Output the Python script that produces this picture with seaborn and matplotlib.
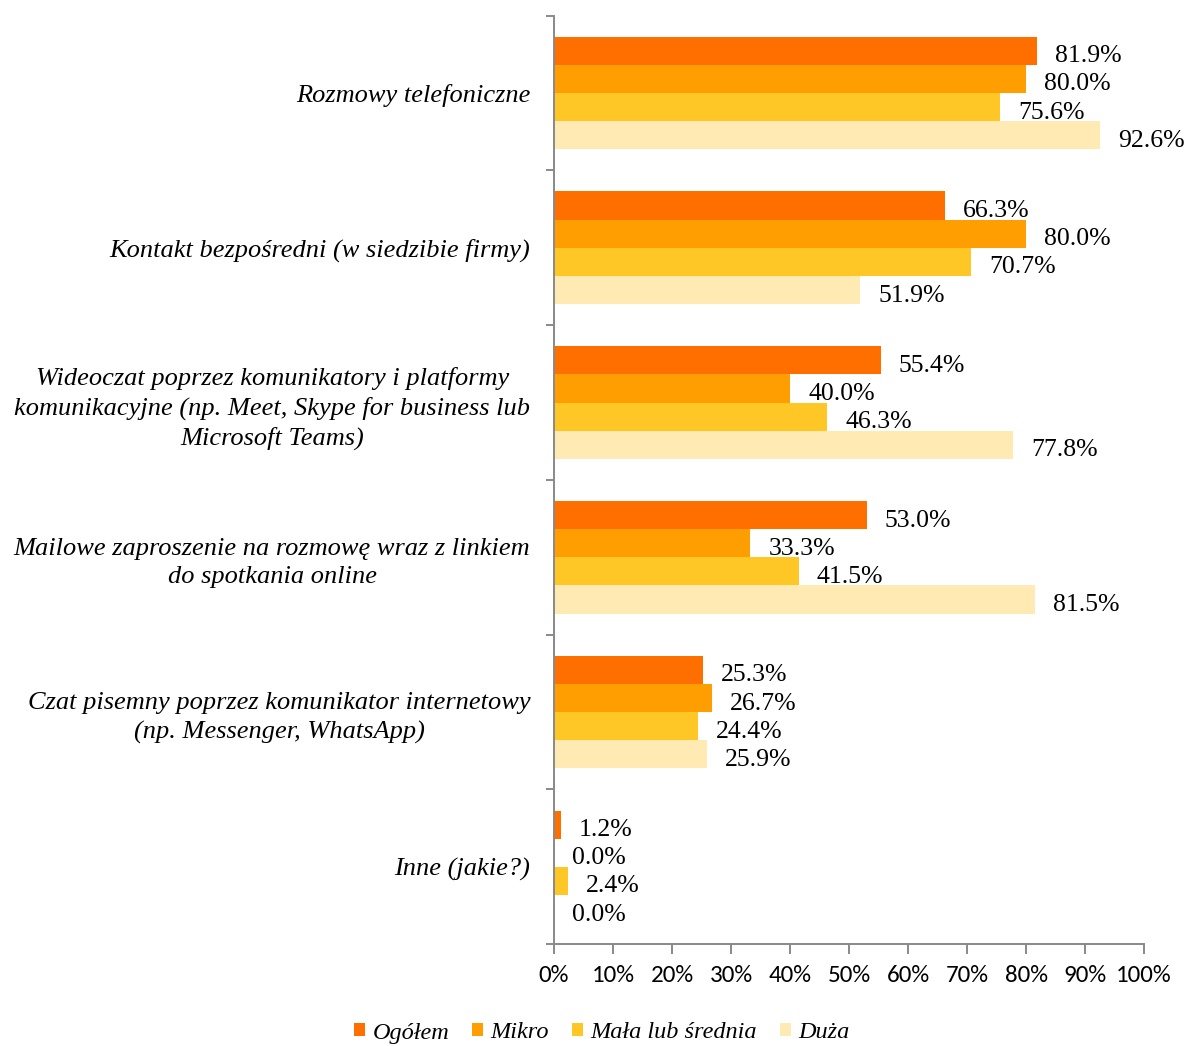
import matplotlib
matplotlib.use("Agg")
import matplotlib.pyplot as plt
from matplotlib import font_manager
from matplotlib.font_manager import FontProperties
from matplotlib.patches import Patch
from matplotlib.ticker import FixedLocator, FuncFormatter
import numpy as np
import pandas as pd
import seaborn as sns

# Survey answers: forms of contact used with candidates, by company size
categories = [
    "Rozmowy telefoniczne",
    "Kontakt bezpośredni (w siedzibie firmy)",
    "Wideoczat poprzez komunikatory i platformy\nkomunikacyjne (np. Meet, Skype for business lub\nMicrosoft Teams)",
    "Mailowe zaproszenie na rozmowę wraz z linkiem\ndo spotkania online",
    "Czat pisemny poprzez komunikator internetowy\n(np. Messenger, WhatsApp)",
    "Inne (jakie?)",
]
groups = ["Ogółem", "Mikro", "Mała lub średnia", "Duża"]

ogolem = [81.9, 66.3, 55.4, 53.0, 25.3, 1.2]
mikro = [80.0, 80.0, 40.0, 33.3, 26.7, 0.0]
mala_srednia = [75.6, 70.7, 46.3, 41.5, 24.4, 2.4]
duza = [92.6, 51.9, 77.8, 81.5, 25.9, 0.0]

x_ticks = [0, 10, 20, 30, 40, 50, 60, 70, 80, 90, 100]

colors = ["#FF6F00", "#FF9E00", "#FFC726", "#FFEAB3"]

df = pd.DataFrame({
    "kategoria": categories * 4,
    "grupa": np.repeat(groups, len(categories)),
    "wartosc": ogolem + mikro + mala_srednia + duza,
})


def font_file(family, style="normal"):
    try:
        return font_manager.findfont(FontProperties(family=family, style=style),
                                     fallback_to_default=False)
    except Exception:
        return None


def fp(family, style, size, fallback):
    path = font_file(family, style)
    if path:
        return FontProperties(fname=path, size=size)
    return FontProperties(family=fallback, style=style, size=size)


serif_reg = fp("Liberation Serif", "normal", 18.5, "DejaVu Serif")
serif_it = fp("Liberation Serif", "italic", 19, "DejaVu Serif")
legend_it = fp("Liberation Serif", "italic", 17.5, "DejaVu Serif")
tick_font = fp("Carlito", "normal", 18, "DejaVu Sans")

sns.set_theme(style="white")
plt.rcParams["font.family"] = ["Liberation Serif", "DejaVu Serif"]
plt.rcParams["text.color"] = "black"

fig = plt.figure(figsize=(11.86, 10.46), dpi=100)
ax = fig.add_axes([554 / 1186, 1 - 944.2 / 1046, 590 / 1186, 928.6 / 1046])

sns.barplot(
    data=df, y="kategoria", x="wartosc", hue="grupa", orient="h",
    order=categories, hue_order=groups, palette=colors, saturation=1,
    width=0.7276, linewidth=0, legend=False, ax=ax,
)

ax.set_xlim(0, 100)
ax.set_ylim(len(categories) - 0.5, -0.5)
ax.set_xlabel("")
ax.set_ylabel("")

# value labels to the right of every bar
for cont, vals in zip(ax.containers, [ogolem, mikro, mala_srednia, duza]):
    anns = ax.bar_label(cont, labels=[f"{v:.1f}%" for v in vals], padding=13,
                        color="black")
    for a in anns:
        a.set_fontproperties(serif_reg)
        a.xyann = (13, -4)

# x axis
ax.xaxis.set_major_locator(FixedLocator(x_ticks))
ax.xaxis.set_major_formatter(FuncFormatter(lambda v, p: f"{int(v)}%"))
ax.tick_params(axis="x", bottom=True, length=7, width=1.4, color="#898989",
               direction="out", pad=8, labelcolor="black")
for lab in ax.get_xticklabels():
    lab.set_fontproperties(tick_font)

# y axis: labels at centres, ticks on category boundaries
ax.set_yticks(range(len(categories)))
ax.set_yticklabels(categories)
for lab in ax.get_yticklabels():
    lab.set_fontproperties(serif_it)
    lab.set_multialignment("center")
    lab.set_linespacing(1.36)
    lab.set_color("black")
ax.yaxis.set_minor_locator(FixedLocator(np.arange(-0.5, len(categories), 1.0)))
ax.tick_params(axis="y", which="major", left=True, length=0, pad=17)
ax.tick_params(axis="y", which="minor", left=True, length=6, width=1.4,
               color="#898989", direction="out")

for side in ["top", "right"]:
    ax.spines[side].set_visible(False)
for side in ["left", "bottom"]:
    ax.spines[side].set_color("#898989")
    ax.spines[side].set_linewidth(1.4)

handles = [Patch(facecolor=c, edgecolor="none", label=g) for c, g in zip(colors, groups)]
leg = fig.legend(handles=handles, loc="center", bbox_to_anchor=(602 / 1186, 1 - 1033 / 1046),
                 ncol=4, frameon=False, handlelength=0.45, handleheight=0.45,
                 handletextpad=0.3, columnspacing=0.95,
                 prop={"family": "Liberation Serif", "style": "italic", "size": 17.5})
for t in leg.get_texts():
    t.set_color("black")
    t.set_fontproperties(legend_it)

fig.savefig("out.png", dpi=100, facecolor="white")
